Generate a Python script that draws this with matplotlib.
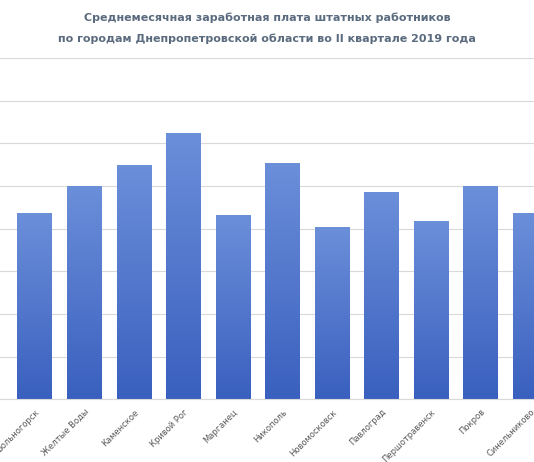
import numpy as np
import matplotlib.pyplot as plt
from matplotlib.patches import Rectangle

cities = ['Вольногорск', 'Желтые Воды', 'Каменское', 'Кривой Рог', 'Марганец',
          'Никополь', 'Новомосковск', 'Павлоград', 'Першотравенск', 'Покров',
          'Синельниково']
salary = [8720, 10020, 11000, 12500, 8660, 11100, 8060, 9740, 8340, 9980, 8720]

fig = plt.figure(figsize=(5.34, 4.62), dpi=100)
ax = fig.add_axes([0, 0.136, 1, 0.738])

x = np.arange(len(cities))
width = 0.707
bars = ax.bar(x, salary, width=width, color='none', zorder=2)

# vertical gradient inside each bar
grad = np.linspace(0, 1, 256).reshape(-1, 1)
cmap = plt.matplotlib.colors.LinearSegmentedColormap.from_list('g', ['#3a60bf', '#6b8fd9'])
for b in bars:
    im = ax.imshow(grad, extent=[b.get_x(), b.get_x() + b.get_width(), 0, b.get_height()],
                   aspect='auto', cmap=cmap, origin='lower', zorder=2)
    im.set_clip_path(b)

ax.set_xlim(-0.707, 10.08)
ax.set_ylim(0, 16000)
ax.set_yticks(np.arange(0, 16001, 2000))
ax.yaxis.grid(True, color='#d9d9d9', linewidth=0.8, zorder=0)
ax.set_axisbelow(True)
ax.tick_params(axis='y', left=False, labelleft=False)
ax.tick_params(axis='x', length=0, pad=6)
ax.set_xticks(x)
ax.set_xticklabels(cities, rotation=45, ha='right', rotation_mode='anchor',
                   fontsize=6, color='#595959')
for s in ['top', 'right', 'left']:
    ax.spines[s].set_visible(False)
ax.spines['bottom'].set_color('#d9d9d9')

fig.text(0.5, 0.962, 'Среднемесячная заработная плата штатных работников',
         ha='center', va='center', fontsize=8, fontweight='bold', color='#5a6b7f')
fig.text(0.5, 0.916, 'по городам Днепропетровской области во II квартале 2019 года',
         ha='center', va='center', fontsize=8, fontweight='bold', color='#5a6b7f')

fig.savefig('out.png', dpi=100)
